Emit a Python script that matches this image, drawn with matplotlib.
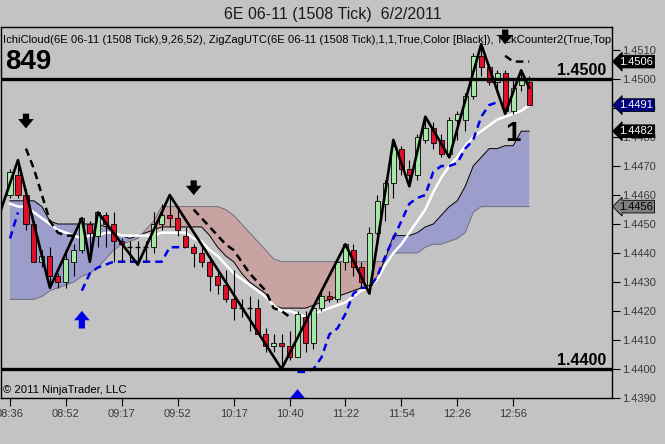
import numpy as np
import matplotlib
matplotlib.use("Agg")
import matplotlib.pyplot as plt
import matplotlib.transforms as mtransforms
from matplotlib.patches import FancyArrowPatch

plt.rcParams['font.family'] = ['Liberation Sans', 'DejaVu Sans']

# ---- data (one entry per 1508-tick bar) ----
opens = [1.4460, 1.4467, 1.4460, 1.4450, 1.4437, 1.4439, 1.4432, 1.4430, 1.4437, 1.4441,
         1.4450, 1.4446, 1.4453, 1.4450, 1.4444, 1.4442, 1.4442, 1.4442, 1.4442, 1.4450,
         1.4453, 1.4452, 1.4446, 1.4442, 1.4440, 1.4437, 1.4432, 1.4429, 1.4424, 1.4421,
         1.4421, 1.4421, 1.4412, 1.4408, 1.4409, 1.4408, 1.4404, 1.4418, 1.4409, 1.4421,
         1.4425, 1.4424, 1.4437, 1.4441, 1.4435, 1.4429, 1.4447, 1.4457, 1.4464, 1.4476,
         1.4469, 1.4467, 1.4479, 1.4483, 1.4479, 1.4474, 1.4486, 1.4486, 1.4494, 1.4508,
         1.4504, 1.4499, 1.4502, 1.4489, 1.4498, 1.4499]
highs = [1.4469, 1.4472, 1.4462, 1.4451, 1.4441, 1.4442, 1.4433, 1.4441, 1.4443, 1.4452,
         1.4451, 1.4454, 1.4454, 1.4454, 1.4445, 1.4444, 1.4444, 1.4444, 1.4454, 1.4457,
         1.4460, 1.4456, 1.4449, 1.4443, 1.4443, 1.4439, 1.4434, 1.4434, 1.4434, 1.4424,
         1.4425, 1.4424, 1.4414, 1.4412, 1.4412, 1.4413, 1.4420, 1.4420, 1.4422, 1.4427,
         1.4427, 1.4438, 1.4443, 1.4443, 1.4437, 1.4449, 1.4460, 1.4465, 1.4479, 1.4477,
         1.4472, 1.4481, 1.4487, 1.4485, 1.4481, 1.4487, 1.4489, 1.4495, 1.4509, 1.4512,
         1.4505, 1.4503, 1.4503, 1.4500, 1.4503, 1.4501]
lows = [1.4459, 1.4459, 1.4448, 1.4437, 1.4435, 1.4428, 1.4428, 1.4428, 1.4432, 1.4440,
        1.4437, 1.4442, 1.4442, 1.4437, 1.4437, 1.4437, 1.4436, 1.4437, 1.4440, 1.4448,
        1.4449, 1.4446, 1.4442, 1.4435, 1.4435, 1.4427, 1.4426, 1.4423, 1.4417, 1.4418,
        1.4413, 1.4412, 1.4406, 1.4406, 1.4400, 1.4403, 1.4404, 1.4406, 1.4407, 1.4420,
        1.4423, 1.4423, 1.4434, 1.4432, 1.4428, 1.4426, 1.4443, 1.4451, 1.4459, 1.4467,
        1.4463, 1.4465, 1.4478, 1.4476, 1.4473, 1.4473, 1.4479, 1.4482, 1.4493, 1.4501,
        1.4498, 1.4495, 1.4488, 1.4488, 1.4496, 1.4491]
closes = [1.4468, 1.4460, 1.4450, 1.4437, 1.4439, 1.4432, 1.4430, 1.4438, 1.4441, 1.4452,
          1.4447, 1.4454, 1.4450, 1.4444, 1.4443, 1.4442, 1.4442, 1.4442, 1.4450, 1.4453,
          1.4452, 1.4448, 1.4442, 1.4440, 1.4437, 1.4432, 1.4429, 1.4424, 1.4421, 1.4421,
          1.4421, 1.4412, 1.4408, 1.4409, 1.4408, 1.4404, 1.4419, 1.4409, 1.4421, 1.4425,
          1.4424, 1.4437, 1.4443, 1.4435, 1.4430, 1.4447, 1.4458, 1.4464, 1.4477, 1.4469,
          1.4467, 1.4480, 1.4483, 1.4478, 1.4474, 1.4486, 1.4488, 1.4494, 1.4508, 1.4504,
          1.4499, 1.4502, 1.4489, 1.4497, 1.4500, 1.4491]

# Ichimoku cloud spans (already shifted)
span_a = [1.4458, 1.4458, 1.4458, 1.4458, 1.4456, 1.4451, 1.4450, 1.4450, 1.4450, 1.4450,
          1.4450, 1.4450, 1.4449, 1.4447, 1.4446, 1.4445, 1.4446, 1.4447, 1.4448, 1.4449,
          1.4449, 1.4449, 1.4449, 1.4449, 1.4449, 1.4446, 1.4442, 1.4439, 1.4437, 1.4433,
          1.4430, 1.4428, 1.4426, 1.4422, 1.4421, 1.4421, 1.4421, 1.4421, 1.4422, 1.4423,
          1.4424, 1.4425, 1.4426, 1.4427, 1.4428, 1.4428, 1.4432, 1.4438, 1.4446, 1.4446,
          1.4446, 1.4447, 1.4449, 1.4450, 1.4453, 1.4456, 1.4458, 1.4463, 1.4470, 1.4473,
          1.4476, 1.4476, 1.4477, 1.4477, 1.4482, 1.4482]
span_b = [1.4424, 1.4424, 1.4424, 1.4424, 1.4425, 1.4427, 1.4428, 1.4429, 1.4430, 1.4432,
          1.4433, 1.4435, 1.4438, 1.4441, 1.4443, 1.4444, 1.4445, 1.4448, 1.4451, 1.4456,
          1.4456, 1.4456, 1.4456, 1.4456, 1.4456, 1.4456, 1.4456, 1.4455, 1.4453, 1.4450,
          1.4447, 1.4444, 1.4441, 1.4438, 1.4437, 1.4437, 1.4437, 1.4437, 1.4437, 1.4437,
          1.4437, 1.4437, 1.4437, 1.4437, 1.4437, 1.4437, 1.4437, 1.4437, 1.4440, 1.4440,
          1.4440, 1.4440, 1.4442, 1.4443, 1.4443, 1.4444, 1.4445, 1.4447, 1.4454, 1.4456,
          1.4456, 1.4456, 1.4456, 1.4456, 1.4456, 1.4456]

# white average line
avg_line = [1.4457, 1.4456, 1.4456, 1.4454, 1.4452, 1.4450, 1.4448, 1.4447, 1.4446, 1.4445,
            1.4446, 1.4446, 1.4447, 1.4447, 1.4446, 1.4446, 1.4446, 1.4446, 1.4446, 1.4447,
            1.4447, 1.4447, 1.4447, 1.4445, 1.4444, 1.4441, 1.4439, 1.4436, 1.4433, 1.4431,
            1.4429, 1.4427, 1.4425, 1.4422, 1.4420, 1.4420, 1.4419, 1.4418, 1.4419, 1.4420,
            1.4421, 1.4422, 1.4423, 1.4425, 1.4427, 1.4428, 1.4431, 1.4436, 1.4440, 1.4443,
            1.4447, 1.4451, 1.4455, 1.4461, 1.4466, 1.4470, 1.4473, 1.4477, 1.4480, 1.4482,
            1.4484, 1.4486, 1.4487, 1.4488, 1.4489, 1.4491]

nan = np.nan
# trailing stops: blue dashed (long) and black dashed (short)
long_stop = [1.4445, 1.4454, nan, nan, nan, nan, nan, nan, nan, 1.4427,
             1.4433, 1.4435, 1.4436, 1.4437, 1.4437, 1.4437, 1.4437, 1.4437, 1.4437, 1.4437,
             1.4442, 1.4442, 1.4442, nan, nan, nan, nan, nan, nan, nan,
             nan, nan, nan, nan, nan, nan, 1.4399, 1.4399, 1.4400, 1.4404,
             1.4412, 1.4414, 1.4419, 1.4426, 1.4428, 1.4428, 1.4432, 1.4439, 1.4445, 1.4451,
             1.4457, 1.4459, 1.4460, 1.4468, 1.4470, 1.4470, 1.4471, 1.4476, 1.4479, 1.4487,
             1.4491, 1.4492, nan, nan, nan, nan]
short_stop = [nan, nan, 1.4476, 1.4469, 1.4460, 1.4451, 1.4447, 1.4446, 1.4446, nan,
              nan, nan, nan, nan, nan, nan, nan, nan, nan, nan,
              nan, nan, nan, 1.4455, 1.4452, 1.4449, 1.4446, 1.4443, 1.4441, 1.4437,
              1.4433, 1.4430, 1.4427, 1.4421, 1.4420, 1.4418, nan, nan, nan, nan,
              nan, nan, nan, nan, nan, nan, nan, nan, nan, nan,
              nan, nan, nan, nan, nan, nan, nan, nan, nan, nan,
              nan, nan, 1.4508, 1.4506, 1.4506, 1.4506]

# zigzag pivots (bar index, price)
zz_bars = [-2, 1, 5, 9, 10, 11, 16, 20, 34, 42, 45, 48, 50, 52, 55, 59, 62, 64, 65]
zz_prices = [1.4448, 1.4472, 1.4428, 1.4452, 1.4437, 1.4454, 1.4436, 1.4460, 1.4400,
             1.4443, 1.4426, 1.4479, 1.4463, 1.4487, 1.4473, 1.4512, 1.4488, 1.4503, 1.4497]

# signal arrows (bar index, tip price)
sell_bars = [2, 23, 62]
sell_tips = [1.4482, 1.4459, 1.4511]
buy_bars = [9, 36]
buy_tips = [1.4421, 1.4394]

# time labels every 7 bars
time_labels = ["08:36", "08:52", "09:17", "09:52", "10:17", "10:40",
               "11:22", "11:54", "12:26", "12:56"]

# right-axis price markers
marker_prices = [1.4506, 1.4491, 1.4482, 1.4456]
marker_faces = ['black', '#000080', 'black', '#808080']
marker_texts = ['white', 'white', 'white', 'black']

key_levels = [1.4500, 1.4400]

BG = '#C3C3C3'
UP = '#A6E6A6'
DOWN = '#DD1028'

fig = plt.figure(figsize=(6.65, 4.44), dpi=100, facecolor=BG)
ax = fig.add_axes([0.0015, 46 / 444, 0.9188, 371 / 444])
ax.set_facecolor(BG)

n = len(closes)
x = np.arange(n)
o = np.array(opens); h = np.array(highs); l = np.array(lows); c = np.array(closes)
a = np.array(span_a); b = np.array(span_b)

# cloud
ax.fill_between(x, a, b, where=a >= b, interpolate=True, color='#9C9DCB', lw=0, zorder=1)
ax.fill_between(x, a, b, where=a < b, interpolate=True, color='#C9A2A2', lw=0, zorder=1)
ax.plot(x, a, color='black', lw=0.7, zorder=2)
ax.plot(x, b, color='#6E6E80', lw=0.7, zorder=2)

ax.plot(x, avg_line, color='white', lw=1.8, zorder=3)
ax.plot(x, long_stop, color='#0000E6', lw=1.8, ls=(0, (3, 2)), zorder=3)
ax.plot(x, short_stop, color='black', lw=1.8, ls=(0, (3, 2)), zorder=3)

# candles
ax.vlines(x, l, h, color='black', lw=0.8, zorder=4)
up = c > o
down = c < o
ax.bar(x[up], (c - o)[up], bottom=o[up], width=0.64, color=UP,
       edgecolor='black', linewidth=0.6, zorder=5)
ax.bar(x[down], (o - c)[down], bottom=c[down], width=0.64, color=DOWN,
       edgecolor='black', linewidth=0.6, zorder=5)
flat = c == o
ax.hlines(c[flat], x[flat] - 0.32, x[flat] + 0.32, color='black', lw=1.0, zorder=5)

# zigzag
ax.plot(zz_bars, zz_prices, color='black', lw=1.9, zorder=6)

blend = mtransforms.blended_transform_factory(ax.transAxes, ax.transData)

# key levels
for lvl in key_levels:
    ax.axhline(lvl, color='black', lw=2.4, zorder=7)
    ax.text(0.99, lvl + 0.00005, f"{lvl:.4f}", transform=blend,
            ha='right', va='bottom', fontsize=11.5, fontweight='bold', zorder=8)

# arrows
arrow_style = 'simple,head_length=0.45,head_width=0.75,tail_width=0.3'
for bx, tip in zip(sell_bars, sell_tips):
    ax.add_patch(FancyArrowPatch((bx, tip + 0.0007), (bx, tip), arrowstyle=arrow_style,
                                 mutation_scale=15, color='black', lw=0, zorder=8))
for bx, tip in zip(buy_bars, buy_tips):
    ax.add_patch(FancyArrowPatch((bx, tip - 0.0008), (bx, tip), arrowstyle=arrow_style,
                                 mutation_scale=15, color='#0000E6', lw=0, zorder=8))

# texts
ax.text(0.004, 0.965, "IchiCloud(6E 06-11 (1508 Tick),9,26,52), ZigZagUTC(6E 06-11 (1508 Tick),1,1,True,Color [Black]), TickCounter2(True,Top",
        transform=ax.transAxes, ha='left', va='center', fontsize=8.1, clip_on=True, zorder=9)
ax.text(0.006, 0.905, "849", transform=ax.transAxes, ha='left', va='center',
        fontsize=20, fontweight='bold', zorder=9)
ax.text(63, 1.4481, "1", ha='center', va='center', fontsize=20, fontweight='bold', zorder=9)
ax.text(0.004, 0.022, "\u00a9 2011 NinjaTrader, LLC", transform=ax.transAxes,
        ha='left', va='center', fontsize=8.1, zorder=9)

# axes
ax.set_xlim(-1.125, 75.375)
ax.set_ylim(1.4390, 1.451793)
ax.set_xticks(np.arange(len(time_labels)) * 7)
ax.set_xticklabels(time_labels)
ax.yaxis.tick_right()
ax.set_yticks(np.round(np.arange(1.4390, 1.45105, 0.001), 4))
ax.yaxis.set_major_formatter(matplotlib.ticker.FormatStrFormatter('%.4f'))
ax.tick_params(axis='y', direction='out', length=6, width=0.8, labelsize=8,
               labelcolor='#3A3A3A', pad=1)
ax.tick_params(axis='x', direction='out', length=6, width=0.8, labelsize=8,
               labelcolor='#3A3A3A', pad=2)
for sp in ax.spines.values():
    sp.set_linewidth(1.0)
    sp.set_color('black')

# price markers on the right axis
for p, fc, tc in zip(marker_prices, marker_faces, marker_texts):
    ax.text(1.012, p, f"{p:.4f}", transform=blend, ha='left', va='center',
            fontsize=8, color=tc, clip_on=False, zorder=10,
            bbox=dict(boxstyle='larrow,pad=0.12', fc=fc, ec='black', lw=0.6))

fig.text(0.5, 1 - 14 / 444, "6E 06-11 (1508 Tick)  6/2/2011", ha='center', va='center',
         fontsize=11.5, color='#1A1A1A')

fig.savefig("out.png", dpi=100, facecolor=BG)
